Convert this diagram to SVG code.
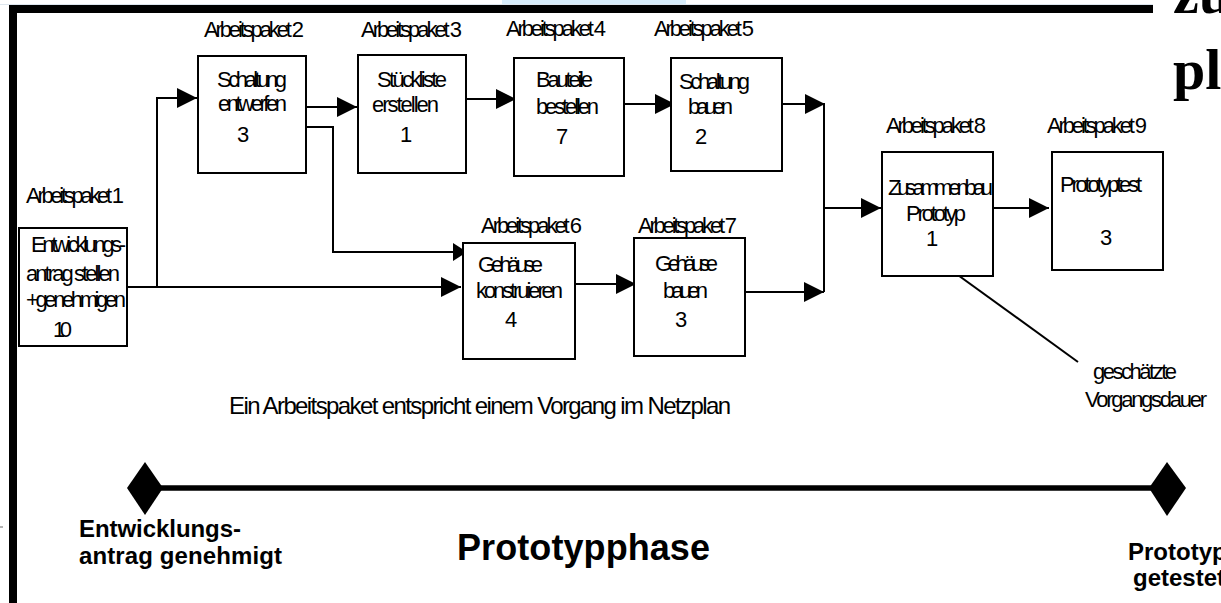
<svg xmlns="http://www.w3.org/2000/svg" width="1221" height="603" viewBox="0 0 1221 603">
<style>
.t{font-family:"Liberation Sans",Arial,sans-serif;font-size:22px;fill:#000}
.b{font-family:"Liberation Sans",Arial,sans-serif;font-weight:bold;fill:#000}
.box{fill:#fff;stroke:#000;stroke-width:2}
.c{fill:none;stroke:#000;stroke-width:2}
.frame{fill:#000}
</style>
<defs>
<marker id="ah" markerUnits="userSpaceOnUse" markerWidth="20" markerHeight="20" refX="20" refY="10" orient="auto"><path d="M0,0 L20,10 L0,20 z" fill="#000"/></marker>
<marker id="ahs" markerUnits="userSpaceOnUse" markerWidth="14" markerHeight="18" refX="14" refY="9" orient="auto"><path d="M0,0 L14,9 L0,18 z" fill="#000"/></marker>
</defs>
<rect width="1221" height="603" fill="#fff"/>
<rect x="502" y="0" width="184" height="4" fill="#d8edfb"/>
<line x1="0" y1="4.5" x2="1153" y2="4.5" stroke="#dde6ee" stroke-width="1"/>
<g id="frame">
<rect class="frame" x="9" y="5" width="1144" height="8"/>
<rect class="frame" x="9" y="5" width="8" height="598"/>
<line x1="0" y1="527" x2="3" y2="527" stroke="#666" stroke-width="1"/>
</g>
<g id="title-fragment">
<text class="b" style="font-family:'Liberation Serif','Times New Roman',serif;font-size:58px" x="1173" y="13">zu</text>
<text class="b" style="font-family:'Liberation Serif','Times New Roman',serif;font-size:58px" x="1173" y="89">pl</text>
</g>
<g id="connectors">
<path class="c" d="M127,287 H461" marker-end="url(#ah)"/>
<path class="c" d="M157,287 V98 H197" marker-end="url(#ah)"/>
<path class="c" d="M306,107 H357" marker-end="url(#ah)"/>
<path class="c" d="M303,127 H333 V252 H467" stroke-width="1.5" marker-end="url(#ahs)"/>
<path class="c" d="M466,99 H516" marker-end="url(#ah)"/>
<path class="c" d="M624,104 H675" marker-end="url(#ah)"/>
<path class="c" d="M782,104 H825" marker-end="url(#ah)"/>
<path class="c" d="M575,284 H636" marker-end="url(#ah)"/>
<path class="c" d="M745,292 H824" marker-end="url(#ah)"/>
<path class="c" d="M824,104 V292"/>
<path class="c" d="M823,208 H881" marker-end="url(#ah)"/>
<path class="c" d="M993,208 H1049" marker-end="url(#ah)"/>
<path class="c" d="M933,257 L1078,362" stroke-width="1.8"/>
</g>
<g id="ap1">
<text class="t" x="26" y="203" textLength="98" lengthAdjust="spacing">Arbeitspaket 1</text>
<rect class="box" x="19" y="228" width="108" height="118"/>
<text class="t" x="31" y="252" textLength="95" lengthAdjust="spacing">Entwicklungs-</text>
<text class="t" x="26" y="281" textLength="94" lengthAdjust="spacing">antrag stellen</text>
<text class="t" x="26" y="307" textLength="100" lengthAdjust="spacing">+genehmigen</text>
<text class="t" x="53" y="337" textLength="19" lengthAdjust="spacing">10</text>
</g>
<g id="ap2">
<text class="t" x="204" y="37" textLength="100" lengthAdjust="spacing">Arbeitspaket 2</text>
<rect class="box" x="198" y="56" width="108" height="117"/>
<text class="t" x="217" y="87" textLength="70" lengthAdjust="spacing">Schaltung</text>
<text class="t" x="218" y="111" textLength="69" lengthAdjust="spacing">entwerfen</text>
<text class="t" x="237" y="142">3</text>
</g>
<g id="ap3">
<text class="t" x="361" y="37" textLength="101" lengthAdjust="spacing">Arbeitspaket 3</text>
<rect class="box" x="358" y="55" width="108" height="118"/>
<text class="t" x="377" y="87" textLength="70" lengthAdjust="spacing">Stückliste</text>
<text class="t" x="372" y="112" textLength="67" lengthAdjust="spacing">erstellen</text>
<text class="t" x="400" y="142">1</text>
</g>
<g id="ap4">
<text class="t" x="506" y="36" textLength="100" lengthAdjust="spacing">Arbeitspaket 4</text>
<rect class="box" x="514" y="58" width="110" height="118"/>
<text class="t" x="536" y="87" textLength="57" lengthAdjust="spacing">Bauteile</text>
<text class="t" x="536" y="114" textLength="63" lengthAdjust="spacing">bestellen</text>
<text class="t" x="556" y="144">7</text>
</g>
<g id="ap5">
<text class="t" x="654" y="36" textLength="100" lengthAdjust="spacing">Arbeitspaket 5</text>
<rect class="box" x="671" y="58" width="111" height="113"/>
<text class="t" x="679" y="89" textLength="71" lengthAdjust="spacing">Schaltung</text>
<text class="t" x="688" y="114" textLength="45" lengthAdjust="spacing">bauen</text>
<text class="t" x="695" y="144">2</text>
</g>
<g id="ap6">
<text class="t" x="481" y="233" textLength="101" lengthAdjust="spacing">Arbeitspaket 6</text>
<rect class="box" x="463" y="243" width="112" height="116"/>
<text class="t" x="478" y="272" textLength="65" lengthAdjust="spacing">Gehäuse</text>
<text class="t" x="476" y="298" textLength="87" lengthAdjust="spacing">konstruieren</text>
<text class="t" x="505" y="327">4</text>
</g>
<g id="ap7">
<text class="t" x="638" y="233" textLength="99" lengthAdjust="spacing">Arbeitspaket 7</text>
<rect class="box" x="634" y="238" width="111" height="118"/>
<text class="t" x="655" y="271" textLength="63" lengthAdjust="spacing">Gehäuse</text>
<text class="t" x="663" y="298" textLength="45" lengthAdjust="spacing">bauen</text>
<text class="t" x="675" y="327">3</text>
</g>
<g id="ap8">
<text class="t" x="886" y="133" textLength="100" lengthAdjust="spacing">Arbeitspaket 8</text>
<rect class="box" x="882" y="152" width="111" height="124"/>
<text class="t" x="888" y="195" textLength="105" lengthAdjust="spacing">Zusammenbau</text>
<text class="t" x="906" y="221" textLength="60" lengthAdjust="spacing">Prototyp</text>
<text class="t" x="926" y="246">1</text>
</g>
<g id="ap9">
<text class="t" x="1047" y="133" textLength="100" lengthAdjust="spacing">Arbeitspaket 9</text>
<rect class="box" x="1052" y="152" width="111" height="118"/>
<text class="t" x="1060" y="192" textLength="82" lengthAdjust="spacing">Prototyptest</text>
<text class="t" x="1100" y="245">3</text>
</g>
<g id="note-duration">
<text class="t" x="1093" y="379" textLength="84" lengthAdjust="spacing">geschätzte</text>
<text class="t" x="1085" y="407" textLength="122" lengthAdjust="spacing">Vorgangsdauer</text>
</g>
<g id="caption">
<text class="t" style="font-size:24px" x="229" y="414" textLength="502" lengthAdjust="spacing">Ein Arbeitspaket entspricht einem Vorgang im Netzplan</text>
</g>
<g id="timeline">
<line x1="160" y1="488" x2="1152" y2="488" stroke="#000" stroke-width="5.5"/>
</g>
<g id="milestone-start">
<polygon points="127,488 145,462 163,488 145,515" fill="#000"/>
<text class="b" style="font-size:24px" x="79" y="537" textLength="162" lengthAdjust="spacing">Entwicklungs-</text>
<text class="b" style="font-size:24px" x="79" y="564" textLength="203" lengthAdjust="spacing">antrag genehmigt</text>
</g>
<g id="phase">
<text class="b" style="font-size:36px" x="457" y="560" textLength="253" lengthAdjust="spacing">Prototypphase</text>
</g>
<g id="milestone-end">
<polygon points="1149,488 1167,462 1186,488 1167,516" fill="#000"/>
<text class="b" style="font-size:24px" x="1128" y="560">Prototyp</text>
<text class="b" style="font-size:24px" x="1133" y="586">getestet</text>
</g>
</svg>
